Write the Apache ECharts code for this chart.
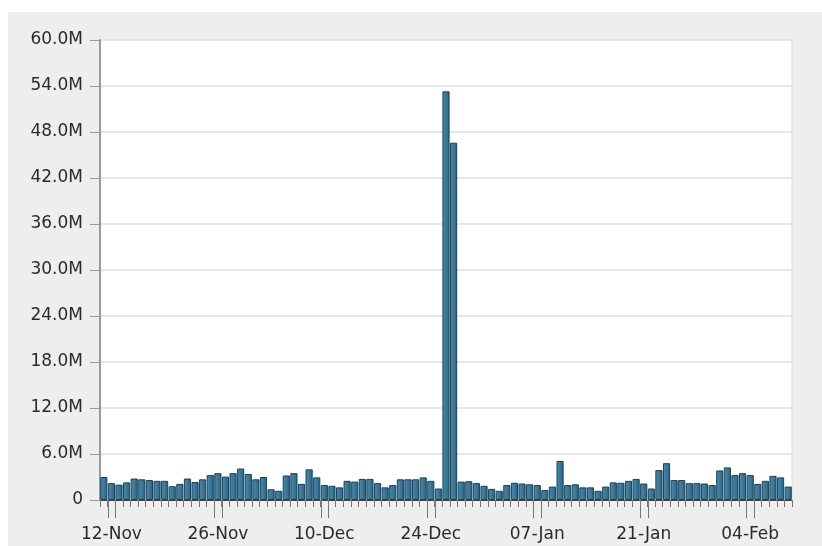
<!DOCTYPE html>
<html>
<head>
<meta charset="utf-8">
<script src="https://cdn.jsdelivr.net/npm/echarts@6/dist/echarts.min.js"></script>
<style>
html,body{margin:0;padding:0;background:#ffffff;width:822px;height:546px;overflow:hidden;}
#chart{position:absolute;left:8px;top:12px;width:814px;height:534px;background:#eeeeee;}
</style>
</head>
<body>
<div id="chart"></div>
<script>
// Categories: one per day, 11-Nov to 09-Feb
const categories = [
  '11-Nov','12-Nov','13-Nov','14-Nov','15-Nov','16-Nov','17-Nov','18-Nov','19-Nov','20-Nov',
  '21-Nov','22-Nov','23-Nov','24-Nov','25-Nov','26-Nov','27-Nov','28-Nov','29-Nov','30-Nov',
  '01-Dec','02-Dec','03-Dec','04-Dec','05-Dec','06-Dec','07-Dec','08-Dec','09-Dec','10-Dec',
  '11-Dec','12-Dec','13-Dec','14-Dec','15-Dec','16-Dec','17-Dec','18-Dec','19-Dec','20-Dec',
  '21-Dec','22-Dec','23-Dec','24-Dec','25-Dec','26-Dec','27-Dec','28-Dec','29-Dec','30-Dec',
  '31-Dec','01-Jan','02-Jan','03-Jan','04-Jan','05-Jan','06-Jan','07-Jan','08-Jan','09-Jan',
  '10-Jan','11-Jan','12-Jan','13-Jan','14-Jan','15-Jan','16-Jan','17-Jan','18-Jan','19-Jan',
  '20-Jan','21-Jan','22-Jan','23-Jan','24-Jan','25-Jan','26-Jan','27-Jan','28-Jan','29-Jan',
  '30-Jan','31-Jan','01-Feb','02-Feb','03-Feb','04-Feb','05-Feb','06-Feb','07-Feb','08-Feb',
  '09-Feb'
];

// Daily values in millions
const valuesM = [
  3.0, 2.2, 2.0, 2.3, 2.8, 2.7, 2.6, 2.5, 2.5, 1.8,
  2.1, 2.8, 2.35, 2.7, 3.25, 3.5, 3.05, 3.5, 4.1, 3.4,
  2.7, 3.0, 1.4, 1.2, 3.2, 3.5, 2.1, 4.0, 2.95, 1.95,
  1.85, 1.65, 2.5, 2.4, 2.75, 2.75, 2.2, 1.65, 1.95, 2.7,
  2.7, 2.7, 2.95, 2.5, 1.5, 53.3, 46.6, 2.4, 2.45, 2.2,
  1.85, 1.45, 1.2, 1.95, 2.25, 2.15, 2.05, 1.95, 1.3, 1.75,
  5.1, 1.95, 2.05, 1.65, 1.65, 1.2, 1.75, 2.3, 2.25, 2.5,
  2.75, 2.15, 1.5, 3.9, 4.8, 2.6, 2.6, 2.2, 2.2, 2.15,
  1.95, 3.85, 4.25, 3.25, 3.5, 3.25, 2.1, 2.5, 3.15, 2.95,
  1.75
];

// Labelled days (every 14 days from 12-Nov)
const labelledDays = ['12-Nov','26-Nov','10-Dec','24-Dec','07-Jan','21-Jan','04-Feb'];

// Y axis ticks
const yMax = 60000000;
const yInterval = 6000000;

const values = valuesM.map(v => v * 1000000);
const labelIdx = labelledDays.map(d => categories.indexOf(d));

const chart = echarts.init(document.getElementById('chart'), null, {renderer: 'canvas'});

const font = 'DejaVu Sans';

chart.setOption({
  animation: false,
  backgroundColor: '#eeeeee',
  grid: {
    left: 92, top: 28, right: 30, bottom: 46,
    show: true, backgroundColor: '#ffffff', borderColor: '#d8d8d8', borderWidth: 1
  },
  xAxis: [{
    type: 'category',
    data: categories,
    boundaryGap: true,
    axisLine: {show: true, lineStyle: {color: '#444444', width: 1}},
    axisTick: {show: true, interval: 0, length: 7, lineStyle: {color: '#777777', width: 1}},
    axisLabel: {
      interval: (i) => labelIdx.indexOf(i) >= 0,
      margin: 26,
      fontFamily: font, fontSize: 17, color: '#2a2a2a'
    },
    splitLine: {show: false}
  }],
  yAxis: {
    type: 'value',
    min: 0, max: yMax, interval: yInterval,
    axisLine: {show: true, lineStyle: {color: '#999999', width: 2}},
    axisTick: {show: true, length: 10, lineStyle: {color: '#999999', width: 1}},
    axisLabel: {
      margin: 17,
      fontFamily: font, fontSize: 17, color: '#2a2a2a',
      formatter: (v) => v === 0 ? '0' : (v / 1000000).toFixed(1) + 'M'
    },
    splitLine: {show: true, lineStyle: {color: '#e6e6e6', width: 2}}
  },
  series: [{
    type: 'bar',
    data: values,
    barCategoryGap: '6%',
    itemStyle: {
      color: new echarts.graphic.LinearGradient(0, 0, 1, 0, [
        {offset: 0, color: '#4a8fb2'},
        {offset: 1, color: '#276383'}
      ]),
      borderColor: '#1f3f52',
      borderWidth: 1
    }
  }, {
    type: 'custom',
    clip: false,
    silent: true,
    data: labelIdx.map(i => [i, 0]),
    renderItem: function (params, api) {
      const p = api.coord([api.value(0), 0]);
      const w = api.size([1, 0])[0];
      const style = {stroke: '#777777', lineWidth: 1};
      return {
        type: 'group',
        children: [
          {type: 'line', shape: {x1: Math.round(p[0] - w / 2) + 0.5, y1: p[1], x2: Math.round(p[0] - w / 2) + 0.5, y2: p[1] + 18}, style: style},
          {type: 'line', shape: {x1: Math.round(p[0] + w / 2) + 0.5, y1: p[1], x2: Math.round(p[0] + w / 2) + 0.5, y2: p[1] + 18}, style: style}
        ]
      };
    }
  }]
});
</script>
</body>
</html>
